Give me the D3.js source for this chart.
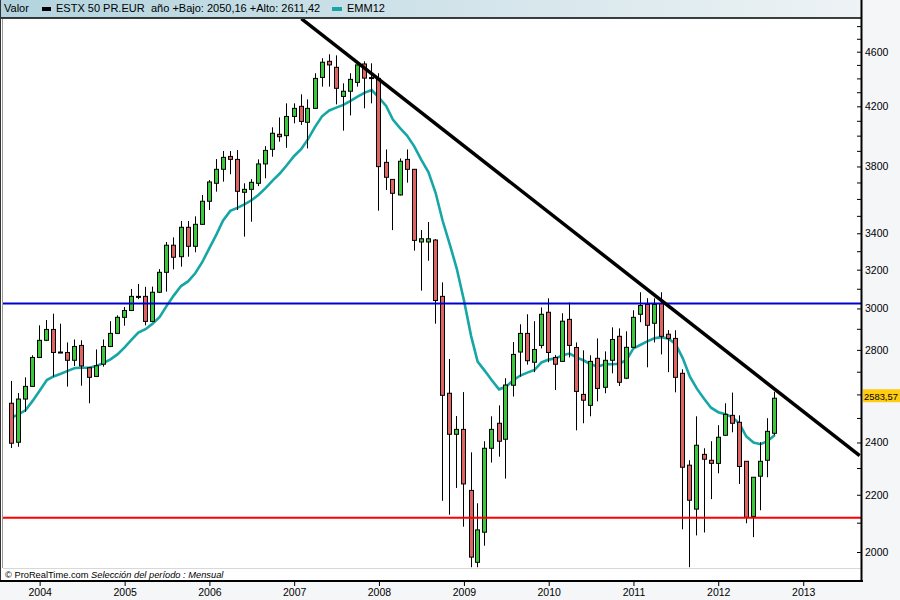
<!DOCTYPE html>
<html><head><meta charset="utf-8">
<script src="https://cdn.jsdelivr.net/npm/d3@7"></script>
<style>body{margin:0;background:#f4f6f8}svg{display:block}</style>
</head><body><svg id="c" width="900" height="600"></svg>
<script>
// Monthly candles, Sep 2003 .. Sep 2012 (ESTX 50 PR.EUR)
const months = d3.timeMonth.range(new Date(2003, 8, 1), new Date(2012, 9, 1));
const openV = [2562,2401,2580,2635,2765,2845,2897,2790,2788,2752,
  2821,2718,2679,2734,2816,2878,2956,2990,3061,3061,
  2936,3082,3186,3333,3270,3434,3327,3451,3586,3695,
  3782,3864,3845,3640,3658,3695,3816,3910,4009,4000,
  4130,4200,4090,4186,4407,4527,4482,4270,4307,4371,
  4507,4406,4400,3826,3719,3624,3845,3782,3351,3351,
  3362,3061,2605,2433,2453,2216,1966,2067,2377,2478,
  2413,2640,2790,2878,2743,2821,2981,2765,2747,2946,
  2811,2600,2553,2761,2631,2752,2864,2671,2812,2971,
  3020,2927,3025,2874,2854,2693,2311,2148,2353,2330,
  2318,2429,2511,2482,2326,2122,2269,2330,2437];
const highV = [2659,2606,2675,2775,2917,2943,2974,2925,2835,2849,
  2845,2721,2802,2849,2937,2966,3007,3099,3125,3110,
  3111,3203,3351,3377,3470,3470,3497,3624,3715,3847,
  3899,3899,3905,3695,3721,3845,3931,4056,4123,4221,
  4221,4285,4249,4438,4550,4580,4572,4364,4438,4527,
  4527,4512,4438,3909,3721,3851,3909,3784,3418,3464,
  3367,3133,2758,2508,2610,2361,2169,2405,2507,2553,
  2671,2837,2922,2971,2937,3005,3051,2776,2976,3030,
  2835,2798,2775,2854,2793,2907,2902,2888,2991,3082,
  3052,3051,3082,2894,2893,2711,2330,2507,2377,2405,
  2470,2562,2608,2511,2327,2266,2401,2499,2611.42];
const lowV = [2378,2383,2526,2632,2762,2841,2678,2785,2634,2726,
  2638,2562,2676,2723,2813,2875,2915,2987,3047,2917,
  2933,3078,3085,3202,3216,3270,3294,3447,3534,3644,
  3705,3751,3534,3381,3466,3678,3726,3862,3960,3920,
  4083,4072,3916,4181,4340,4340,4214,4033,4137,4340,
  4186,4221,3530,3654,3418,3621,3699,3303,3090,3248,
  2925,2178,2128,2225,2086,1950,1950,2021,2321,2344,
  2260,2591,2678,2732,2698,2807,2743,2619,2744,2765,
  2449,2478,2507,2570,2605,2693,2637,2667,2808,2932,
  2720,2835,2779,2698,2609,2077,1950,2056,2066,2184,
  2280,2426,2441,2240,2098,2050.16,2144,2265,2429];
const closeV = [2397,2580,2635,2765,2845,2897,2788,2787,2752,2816,
  2726,2675,2727,2816,2878,2956,2990,3061,3059,2936,
  3082,3186,3333,3267,3434,3327,3451,3586,3703,3782,
  3858,3845,3646,3658,3701,3816,3903,4016,3993,4130,
  4186,4096,4186,4400,4520,4500,4328,4307,4393,4500,
  4402,4399,3799,3732,3634,3833,3782,3360,3369,3369,
  3040,2596,2433,2453,2240,1983,2075,2377,2453,2405,
  2641,2779,2878,2750,2802,2971,2788,2734,2937,2821,
  2613,2575,2747,2626,2752,2849,2653,2812,2956,3015,
  2917,3020,2864,2854,2675,2303,2180,2389,2334,2318,
  2421,2515,2478,2306,2119,2265,2326,2445,2583.57];
const emaV = [2500,2515,2532,2571,2616,2663,2679,2691,2704,2717,
  2718,2718,2726,2739,2756,2779,2812,2849,2882,2898,
  2924,2958,3013,3066,3114,3138,3181,3240,3317,3395,
  3473,3529,3547,3568,3592,3625,3667,3713,3757,3809,
  3867,3913,3975,4059,4131,4171,4191,4210,4238,4268,
  4297,4315,4261,4203,4108,4051,4001,3929,3844,3765,
  3637,3473,3338,3206,3041,2865,2746,2704,2662,2622,
  2633,2662,2683,2696,2708,2742,2755,2761,2775,2783,
  2765,2751,2734,2723,2735,2734,2736,2752,2807,2824,
  2840,2855,2860,2853,2828,2762,2678,2625,2581,2543,
  2524,2516,2504,2477,2424,2400,2393,2406,2430];

const yearTicks = [2004,2005,2006,2007,2008,2009,2010,2011,2012,2013];
const priceLabels = [2000,2200,2400,2800,3000,3200,3400,3800,4200,4600];
const minorTicks = d3.range(2000, 4900, 100);
const resistanceLevel = 3025;
const supportLevel = 2117;
const trendDates = [new Date(2007, 1, 1), new Date(2013, 8, 1)];
const trendValues = [4860, 2348];
const lastPrice = 2583.57;

const svg = d3.select("#c");
const FONT = "'Liberation Sans', Arial, sans-serif";
const L = 3, R = 861, T = 19, B = 568;

const x = d3.scaleTime().domain([months[0], months[months.length - 1]]).range([11.3, 774.9]);
const y = d3.scaleLog().domain([2000, 4600]).range([552, 51.7]);

// header gradient
const defs = svg.append("defs");
const g1 = defs.append("linearGradient").attr("id", "hg").attr("x1", 0).attr("x2", 1).attr("y1", 0).attr("y2", 0);
g1.append("stop").attr("offset", "0%").attr("stop-color", "#b2d3de");
g1.append("stop").attr("offset", "100%").attr("stop-color", "#eef3f5");
defs.append("clipPath").attr("id", "plot").append("rect").attr("x", L).attr("y", T).attr("width", R - L).attr("height", B - T);

svg.append("rect").attr("width", 900).attr("height", 600).attr("fill", "#f4f6f8");
svg.append("rect").attr("x", 0).attr("y", 0).attr("width", 862).attr("height", 18).attr("fill", "url(#hg)");
svg.append("rect").attr("x", 1).attr("y", 19).attr("width", 860).attr("height", 562).attr("fill", "#fff");

// header text
const hdr = svg.append("g").attr("font-family", FONT).attr("font-size", 11).attr("fill", "#000");
hdr.append("text").attr("x", 4).attr("y", 12).text("Valor");
hdr.append("rect").attr("x", 42).attr("y", 7).attr("width", 9).attr("height", 4).attr("fill", "#000");
hdr.append("text").attr("x", 56).attr("y", 12).text("ESTX 50 PR.EUR");
hdr.append("text").attr("x", 151).attr("y", 12).text("año +Bajo: 2050,16 +Alto: 2611,42");
hdr.append("rect").attr("x", 332).attr("y", 7).attr("width", 10).attr("height", 4).attr("fill", "#17a6a6");
hdr.append("text").attr("x", 347).attr("y", 12).text("EMM12");

// frame lines
svg.append("line").attr("x1", 0).attr("x2", 862).attr("y1", 18).attr("y2", 18).attr("stroke", "#000").attr("stroke-width", 1.5);
svg.append("line").attr("x1", 0.5).attr("x2", 0.5).attr("y1", 0).attr("y2", 582).attr("stroke", "#333");
svg.append("line").attr("x1", 2.5).attr("x2", 2.5).attr("y1", 19).attr("y2", 568).attr("stroke", "#9a9a9a");
svg.append("line").attr("x1", L).attr("x2", R).attr("y1", 568.5).attr("y2", 568.5).attr("stroke", "#d8d8d8");

// EMA
const idx = d3.range(months.length);
svg.append("path").attr("clip-path", "url(#plot)")
  .attr("d", d3.line().x(i => x(months[i])).y(i => y(emaV[i]))(idx))
  .attr("fill", "none").attr("stroke", "#17a6a6").attr("stroke-width", 2.6);

// candles
const cg = svg.append("g").attr("clip-path", "url(#plot)");
idx.forEach(i => {
  const c = Math.floor(x(months[i]));
  const o = openV[i], cl = closeV[i];
  cg.append("line").attr("x1", c + 0.5).attr("x2", c + 0.5)
    .attr("y1", y(highV[i])).attr("y2", y(lowV[i])).attr("stroke", "#000").attr("stroke-width", 1);
  const yt = y(Math.max(o, cl)), yb = y(Math.min(o, cl));
  cg.append("rect").attr("x", c - 1.5).attr("width", 4)
    .attr("y", yt).attr("height", Math.max(1, yb - yt))
    .attr("fill", cl >= o ? "#3cc83c" : "#de6464").attr("stroke", "#000").attr("stroke-width", 1);
});

// horizontal levels
svg.append("line").attr("x1", L).attr("x2", R).attr("y1", y(resistanceLevel)).attr("y2", y(resistanceLevel))
  .attr("stroke", "#0000cc").attr("stroke-width", 2);
svg.append("line").attr("x1", L).attr("x2", R).attr("y1", y(supportLevel)).attr("y2", y(supportLevel))
  .attr("stroke", "#ff0000").attr("stroke-width", 2);

// trend line
svg.append("line").attr("clip-path", "url(#plot)")
  .attr("x1", x(trendDates[0])).attr("y1", y(trendValues[0]))
  .attr("x2", x(trendDates[1])).attr("y2", y(trendValues[1]))
  .attr("stroke", "#000").attr("stroke-width", 3.5);

// footer
const ft = svg.append("text").attr("x", 5).attr("y", 578).attr("font-family", FONT).attr("font-size", 9.3).attr("fill", "#000");
ft.append("tspan").text("© ProRealTime.com  ");
ft.append("tspan").attr("font-style", "italic").text("Selección del período : Mensual");

// bottom frame
svg.append("line").attr("x1", 0).attr("x2", 863).attr("y1", 581).attr("y2", 581).attr("stroke", "#000").attr("stroke-width", 2);

// y axis
const yAxis = d3.axisRight(y).tickValues(minorTicks).tickSize(-4).tickPadding(4)
  .tickFormat(v => priceLabels.includes(v) ? String(v) : "");
const ya = svg.append("g").attr("transform", "translate(861,0)").call(yAxis);
ya.select(".domain").remove();
ya.selectAll("text").attr("font-family", FONT).attr("font-size", 10.5).attr("fill", "#000");
ya.selectAll("line").attr("stroke", "#000");
svg.append("line").attr("x1", 861.5).attr("x2", 861.5).attr("y1", 0).attr("y2", 582).attr("stroke", "#000").attr("stroke-width", 2);

// price tag
svg.append("rect").attr("x", 863).attr("y", y(lastPrice) - 9).attr("width", 37).attr("height", 13).attr("fill", "#ffcc11");
svg.append("text").attr("x", 864).attr("y", y(lastPrice) + 1.5).attr("font-family", FONT).attr("font-size", 9.4).attr("fill", "#000")
  .text(d3.format(".2f")(lastPrice).replace(".", ","));

// x axis
const xAxis = d3.axisBottom(x).tickValues(yearTicks.map(yr => new Date(yr, 0, 1)))
  .tickFormat(d3.timeFormat("%Y")).tickSize(4).tickPadding(3);
const xa = svg.append("g").attr("transform", "translate(0,582)").call(xAxis);
xa.select(".domain").remove();
xa.selectAll("text").attr("font-family", FONT).attr("font-size", 10.5).attr("fill", "#000");
xa.selectAll("line").attr("stroke", "#000");
</script></body></html>
